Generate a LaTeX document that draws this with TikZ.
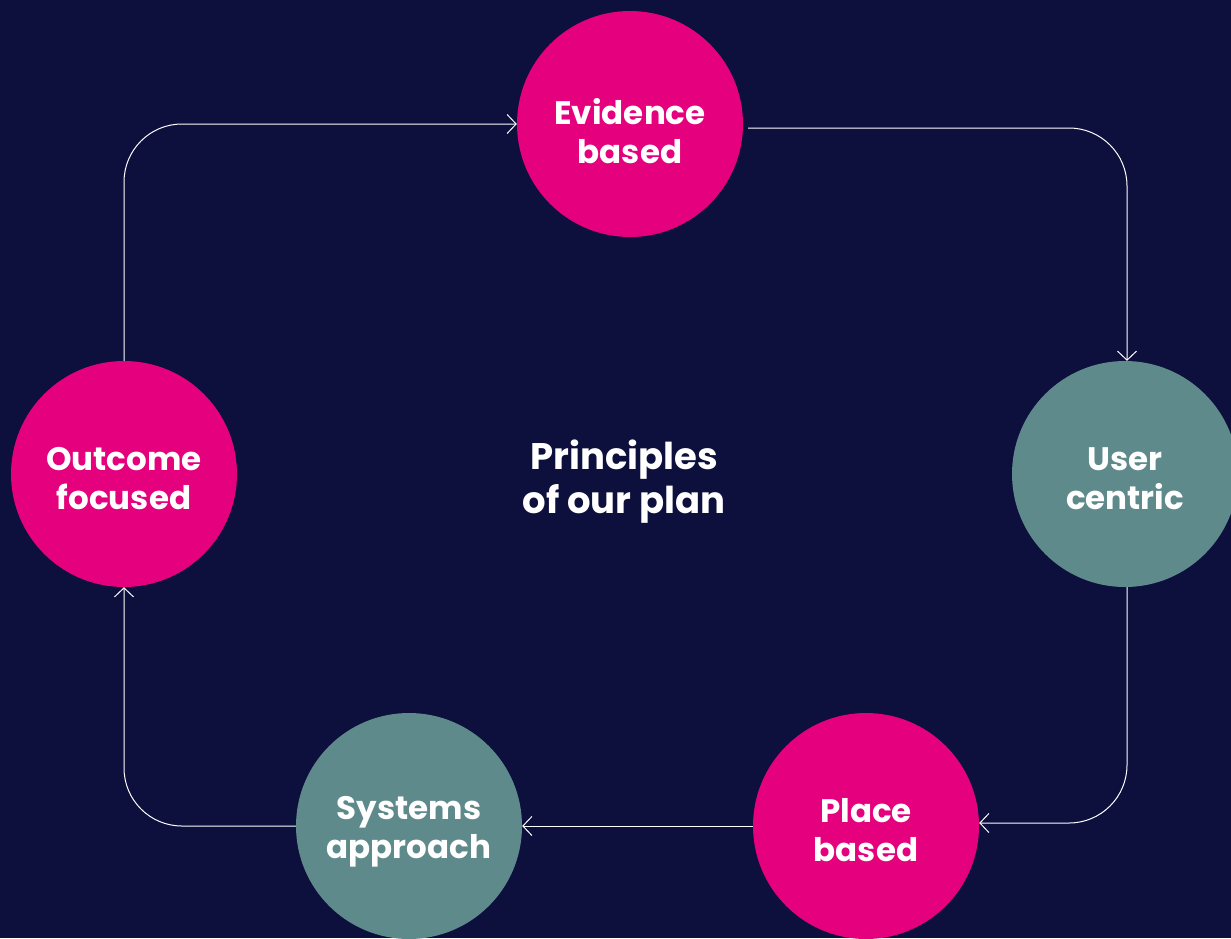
\documentclass[tikz,border=0pt]{standalone}
\usepackage{fontspec}
\setmainfont{Poppins}
\usetikzlibrary{arrows.meta}
\definecolor{bg}{HTML}{0D0F3C}
\definecolor{pinkc}{HTML}{E5007E}
\definecolor{tealc}{HTML}{5F8A8B}
\tikzset{
  circ/.style={circle, minimum size=226pt, inner sep=0pt},
  pinkcirc/.style={circ, fill=pinkc},
  tealcirc/.style={circ, fill=tealc},
  lbl/.style={text=white, align=center, inner sep=0pt,
    font=\fontsize{32.5}{39}\selectfont\bfseries},
  arr/.style={draw=white, line width=1pt, rounded corners=58pt,
    -{Straight Barb[length=9pt,width=19pt,line width=1pt]}},
}
\begin{document}
\begin{tikzpicture}[x=1pt,y=-1pt]
\useasboundingbox (0,0) rectangle (1231,938);
\fill[bg] (0,0) rectangle (1231,938);
\clip (0,0) rectangle (1231,938);
\node[pinkcirc] (ev) at (630,124) {};
\node[tealcirc] (uc) at (1125,474) {};
\node[pinkcirc] (pb) at (866,826) {};
\node[tealcirc] (sa) at (409,826) {};
\node[pinkcirc] (of) at (124,474) {};
\node[lbl] (evt) at ([yshift=-7pt]ev.center) {Evidence\\based};
\node[lbl] (uct) at ([yshift=-5pt]uc.center) {User\\centric};
\node[lbl] (pbt) at ([yshift=-4pt]pb.center) {Place\\based};
\node[lbl] (sat) at ([yshift=-6pt]sa.center) {Systems\\approach};
\node[lbl] (oft) at ([yshift=-5pt]of.center) {Outcome\\focused};
\node[lbl, font=\fontsize{37}{44}\selectfont\bfseries] (center) at (624,482) {Principles\\of our plan};
\draw[arr] (of.north) |- (ev.west);
\draw[arr] ([xshift=5pt,yshift=-4pt]ev.east) -| ([xshift=2pt]uc.north);
\draw[arr] ([xshift=2pt]uc.south) |- ([yshift=3pt]pb.east);
\draw[arr] (pb.west) -- (sa.east);
\draw[arr] (sa.west) -| (of.south);
\end{tikzpicture}
\end{document}
